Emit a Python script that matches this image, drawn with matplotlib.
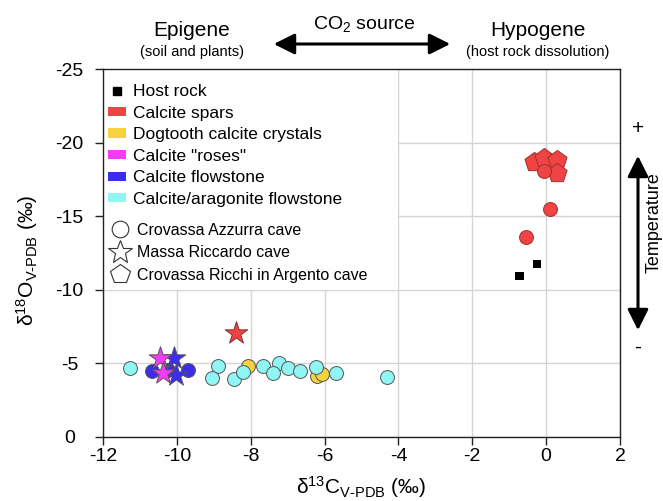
import matplotlib
matplotlib.use("Agg")
import matplotlib.pyplot as plt
from matplotlib.patches import Patch, Rectangle, FancyArrowPatch
from matplotlib.lines import Line2D

plt.rcParams['font.family'] = ['Liberation Sans', 'DejaVu Sans']
plt.rcParams['mathtext.fontset'] = 'custom'
plt.rcParams['mathtext.rm'] = 'Liberation Sans'
plt.rcParams['mathtext.it'] = 'Liberation Sans:italic'
plt.rcParams['mathtext.bf'] = 'Liberation Sans:bold'

# ---------------- data ----------------
host_x = [-0.25, -0.72]
host_y = [-11.75, -10.93]

spars_circle_x = [-0.05, 0.10, -0.54]
spars_circle_y = [-18.10, -15.50, -13.60]
spars_star_x = [-8.40]
spars_star_y = [-7.03]
spars_pent_x = [-0.34, -0.05, 0.30, 0.30]
spars_pent_y = [-18.68, -18.95, -18.83, -17.93]

dogtooth_x = [-8.06, -6.21, -6.06]
dogtooth_y = [-4.82, -4.14, -4.26]

roses_star_x = [-10.47, -10.38]
roses_star_y = [-5.33, -4.30]

flow_circle_x = [-10.68, -10.24, -9.69]
flow_circle_y = [-4.48, -4.55, -4.53]
flow_star_x = [-10.08, -10.03]
flow_star_y = [-5.33, -4.19]

arag_x = [-11.27, -8.88, -9.04, -8.45, -8.22, -7.67, -7.23, -7.41, -6.99,
          -6.66, -6.23, -5.69, -4.30]
arag_y = [-4.69, -4.80, -4.00, -3.92, -4.42, -4.82, -4.99, -4.35, -4.69,
          -4.46, -4.76, -4.35, -4.03]

categories = ["Host rock", "Calcite spars", "Dogtooth calcite crystals",
              'Calcite "roses"', "Calcite flowstone", "Calcite/aragonite flowstone"]
caves = ["Crovassa Azzurra cave", "Massa Riccardo cave",
         "Crovassa Ricchi in Argento cave"]
xticks = [-12, -10, -8, -6, -4, -2, 0, 2]
yticks = [-25, -20, -15, -10, -5, 0]

# ---------------- style ----------------
RED = '#F04444'
YEL = '#F6D23E'
MAG = '#F53BF5'
BLU = '#3B2CEE'
CYA = '#90F6F4'
EDGE = '#555555'

W, H = 663, 501
fig = plt.figure(figsize=(W / 100, H / 100), dpi=100)
ax = fig.add_axes([103 / W, 1 - 436.5 / H, 517 / W, 367.2 / H])

ax.set_xlim(-12, 2)
ax.set_ylim(0, -25)
ax.set_xticks(xticks)
ax.set_yticks(yticks)
ax.set_xticklabels([str(v) for v in xticks])
ax.set_yticklabels([str(v) for v in yticks])
ax.set_axisbelow(True)
ax.grid(True, color='#d4d4d4', lw=1.0)
for s in ax.spines.values():
    s.set_color('#222222')
    s.set_linewidth(1.0)
ax.tick_params(axis='both', direction='out', length=6, width=1.0,
               color='#222222', labelsize=14)
ax.tick_params(axis='x', pad=2)
ax.tick_params(axis='y', pad=18)
for lab in ax.get_yticklabels():
    lab.set_horizontalalignment('center')

# white block behind legend (covers grid)
ax.add_patch(Rectangle((-12, -25), 8, 15, facecolor='white', edgecolor='none',
                       zorder=1))

cs = 100   # circle size
ss = 290   # star size
ps = 210   # pentagon size
lw = 0.7

ax.scatter(dogtooth_x, dogtooth_y, s=cs, marker='o', c=YEL, edgecolors=EDGE,
           linewidths=lw, zorder=3)
ax.scatter(arag_x, arag_y, s=cs, marker='o', c=CYA, edgecolors=EDGE,
           linewidths=lw, zorder=3)
ax.scatter(flow_circle_x, flow_circle_y, s=cs, marker='o', c=BLU,
           edgecolors=EDGE, linewidths=lw, zorder=3)
ax.scatter(flow_star_x, flow_star_y, s=ss, marker='*', c=BLU,
           edgecolors=EDGE, linewidths=lw, zorder=3)
ax.scatter(roses_star_x, roses_star_y, s=ss, marker='*', c=MAG,
           edgecolors=EDGE, linewidths=lw, zorder=3)
ax.scatter(spars_pent_x, spars_pent_y, s=ps, marker='p', c=RED,
           edgecolors='#A03030', linewidths=lw, zorder=3)
ax.scatter(spars_circle_x, spars_circle_y, s=cs, marker='o', c=RED,
           edgecolors='#A03030', linewidths=lw, zorder=3)
ax.scatter(spars_star_x, spars_star_y, s=ss, marker='*', c=RED,
           edgecolors='#803030', linewidths=lw, zorder=3)
ax.scatter(host_x, host_y, s=40, marker='s', c='black', edgecolors='none',
           zorder=3)

# legends
cat_colors = [None, RED, YEL, MAG, BLU, CYA]
h1 = [Line2D([], [], marker='s', ls='none', color='black', markersize=6)]
for c in cat_colors[1:]:
    h1.append(Patch(facecolor=c, edgecolor='none'))
leg1 = ax.legend(h1, categories, loc='upper left',
                 bbox_to_anchor=(108 / W, 1 - 84 / H),
                 bbox_transform=fig.transFigure, frameon=False,
                 fontsize=12.5, handlelength=1.05, handleheight=0.45,
                 handletextpad=0.4, labelspacing=0.38, borderpad=0,
                 borderaxespad=0)
ax.add_artist(leg1)

h2 = [Line2D([], [], marker='o', ls='none', mfc='white', mec='#333333',
             markersize=12, mew=0.8),
      Line2D([], [], marker='*', ls='none', mfc='white', mec='#333333',
             markersize=18, mew=0.8),
      Line2D([], [], marker='p', ls='none', mfc='white', mec='#333333',
             markersize=15, mew=0.8)]
leg2 = ax.legend(h2, caves, loc='upper left',
                 bbox_to_anchor=(110 / W, 1 - 223 / H),
                 bbox_transform=fig.transFigure, frameon=False,
                 fontsize=11.5, handlelength=1.2, handletextpad=0.5,
                 labelspacing=0.46, borderpad=0, borderaxespad=0)

# axis labels
ax.set_xlabel('δ$^{13}$C$_{\\mathrm{V\u2010PDB}}$ (‰)', fontsize=15)
ax.set_ylabel('δ$^{18}$O$_{\\mathrm{V\u2010PDB}}$ (‰)', fontsize=15)
ax.xaxis.set_label_coords(0.5, -(474 - 436.5) / 367.2)
ax.yaxis.set_label_coords((40 - 103) / 517, 0.48)

# annotations in figure pixels
def fx(px):
    return px / W

def fy(py):
    return 1 - py / H

fig.text(fx(192), fy(30), 'Epigene', fontsize=15, ha='center', va='center')
fig.text(fx(192), fy(52), '(soil and plants)', fontsize=10.5, ha='center',
         va='center')
fig.text(fx(364), fy(24), 'CO$_2$ source', fontsize=14, ha='center',
         va='center')
fig.text(fx(538), fy(30), 'Hypogene', fontsize=15, ha='center', va='center')
fig.text(fx(538), fy(52), '(host rock dissolution)', fontsize=10.5,
         ha='center', va='center')

fig.patches.append(FancyArrowPatch((fx(271), fy(44)), (fx(453), fy(44)),
                                   transform=fig.transFigure,
                                   arrowstyle='<|-|>,head_length=0.9,head_width=0.45',
                                   mutation_scale=14, lw=2.2, color='black'))
fig.patches.append(FancyArrowPatch((fx(638), fy(153)), (fx(638), fy(333)),
                                   transform=fig.transFigure,
                                   arrowstyle='<|-|>,head_length=0.9,head_width=0.45',
                                   mutation_scale=14, lw=2.2, color='black'))
fig.text(fx(638), fy(129), '+', fontsize=15, ha='center', va='center')
fig.text(fx(638), fy(347), '-', fontsize=15, ha='center', va='center')
fig.text(fx(654), fy(223), 'Temperature', fontsize=13, ha='center',
         va='center', rotation=90)

fig.savefig('out.png', dpi=100)
